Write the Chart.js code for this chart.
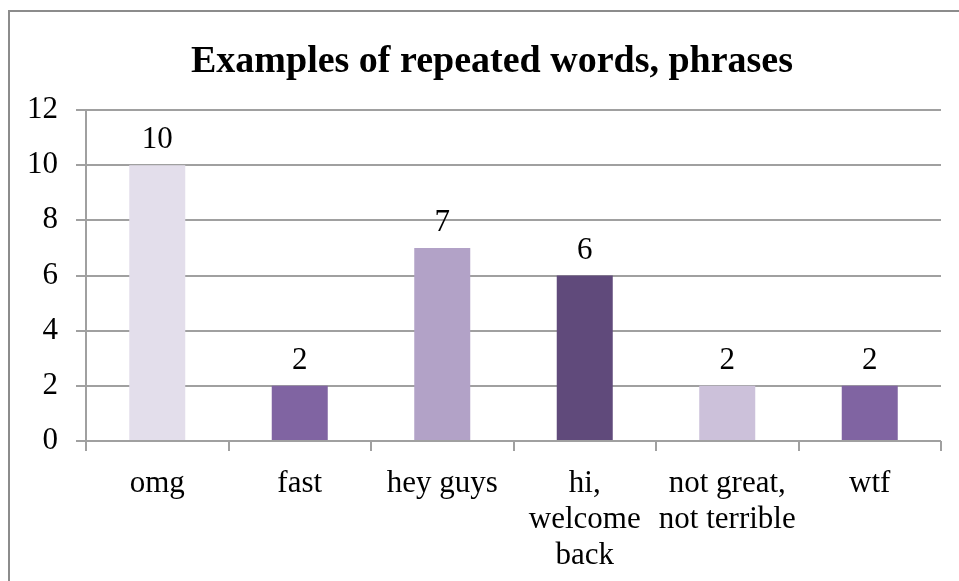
<!DOCTYPE html>
<html>
<head>
<meta charset="utf-8">
<script src="https://cdn.jsdelivr.net/npm/chart.js@4/dist/chart.umd.min.js"></script>
<style>
  html, body { margin: 0; padding: 0; background: #ffffff; }
  #wrap { position: relative; width: 959px; height: 581px; }
</style>
</head>
<body>
<div id="wrap"><canvas id="c" width="959" height="581"></canvas></div>
<script>
const chartTitle = "Examples of repeated words, phrases";
const categories = [["omg"], ["fast"], ["hey guys"], ["hi,", "welcome", "back"], ["not great,", "not terrible"], ["wtf"]];
const counts = [10, 2, 7, 6, 2, 2];
const barColors = ["#E3DEEB", "#8064A2", "#B2A2C7", "#604A7B", "#CCC1DA", "#8064A2"];
const yTicks = [0, 2, 4, 6, 8, 10, 12];

const FONT = '"Liberation Serif", "Times New Roman", Times, serif';

const framePlugin = {
  id: 'frame',
  beforeDraw(chart) {
    const ctx = chart.ctx;
    ctx.save();
    ctx.fillStyle = '#ffffff';
    ctx.fillRect(0, 0, chart.width, chart.height);
    ctx.strokeStyle = '#8c8c8c';
    ctx.lineWidth = 2;
    ctx.beginPath();
    ctx.moveTo(9, chart.height);
    ctx.lineTo(9, 11);
    ctx.lineTo(chart.width, 11);
    ctx.stroke();
    ctx.restore();
  },
  afterDraw(chart) {
    const ctx = chart.ctx;
    ctx.save();
    ctx.font = 'bold 38px ' + FONT;
    ctx.fillStyle = '#000000';
    ctx.textAlign = 'center';
    ctx.textBaseline = 'alphabetic';
    ctx.fillText(chartTitle, 492, 72);
    ctx.restore();
  }
};

const valueLabels = {
  id: 'valueLabels',
  afterDatasetsDraw(chart) {
    const ctx = chart.ctx;
    const meta = chart.getDatasetMeta(0);
    ctx.save();
    ctx.font = '31px ' + FONT;
    ctx.fillStyle = '#000000';
    ctx.textAlign = 'center';
    ctx.textBaseline = 'alphabetic';
    meta.data.forEach((bar, i) => {
      ctx.fillText(String(counts[i]), bar.x, bar.y - 17);
    });
    ctx.restore();
  }
};

new Chart(document.getElementById('c'), {
  type: 'bar',
  data: {
    labels: categories,
    datasets: [{
      data: counts,
      backgroundColor: barColors,
      borderWidth: 0,
      categoryPercentage: 1,
      barPercentage: 0.393
    }]
  },
  options: {
    responsive: false,
    animation: false,
    devicePixelRatio: 1,
    layout: { padding: { top: 110, right: 18, left: 0, bottom: 0 } },
    plugins: {
      legend: { display: false },
      title: { display: false },
      tooltip: { enabled: false }
    },
    scales: {
      x: {
        offset: true,
        grid: { display: true, offset: true, drawOnChartArea: false, drawTicks: true, tickLength: 10, color: '#a0a0a0', lineWidth: 2 },
        border: { display: false },
        ticks: { color: '#000000', font: { family: FONT, size: 31, lineHeight: 1.16 }, padding: 15, maxRotation: 0, autoSkip: false },
        afterFit(scale) { scale.height = 140; }
      },
      y: {
        min: 0,
        max: 12,
        afterBuildTicks(scale) { scale.ticks = yTicks.map(v => ({ value: v })); },
        grid: { color: '#a0a0a0', lineWidth: 2, tickLength: 10, drawTicks: true },
        border: { display: true, color: '#a0a0a0', width: 2 },
        ticks: { color: '#000000', font: { family: FONT, size: 31 }, padding: 18 },
        afterFit(scale) { scale.width = 86; }
      }
    }
  },
  plugins: [framePlugin, valueLabels]
});
</script>
</body>
</html>
